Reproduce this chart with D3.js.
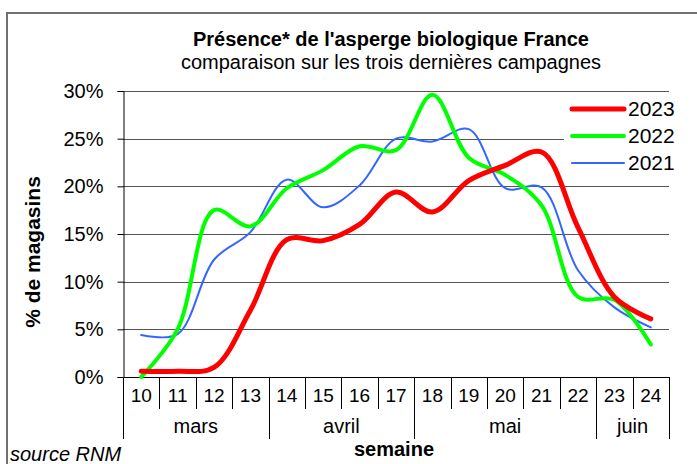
<!DOCTYPE html>
<html>
<head>
<meta charset="utf-8">
<script src="https://cdn.jsdelivr.net/npm/d3@7"></script>
<style>
  body { margin: 0; background: #fff; }
  svg { font-family: "Liberation Sans", Arial, sans-serif; }
</style>
</head>
<body>
<svg></svg>
<script>
//Data
const weeks = ["10", "11", "12", "13", "14", "15", "16", "17", "18", "19", "20", "21", "22", "23", "24"];
const v2023 = [0.6, 0.6, 1.0, 7.0, 14.4, 14.3, 16.0, 19.4, 17.3, 20.6, 22.2, 23.6, 15.7, 8.4, 6.1];
const v2022 = [0.0, 5.0, 17.5, 15.8, 19.8, 21.7, 24.2, 23.8, 29.6, 23.0, 21.2, 18.0, 8.4, 8.1, 3.4];
const v2021 = [4.4, 4.5, 12.3, 15.2, 20.7, 17.8, 20.1, 25.0, 24.7, 26.0, 19.8, 19.9, 11.2, 7.3, 5.2];
const monthNames = ["mars", "avril", "mai", "juin"];
const monthFirst = ["10", "14", "18", "23"];
const monthLast = ["13", "17", "22", "24"];
const yTicks = [0, 5, 10, 15, 20, 25, 30];

const series = [
  { name: "2023", values: v2023, color: "#ff0000", width: 5 },
  { name: "2022", values: v2022, color: "#00ff00", width: 4 },
  { name: "2021", values: v2021, color: "#3366ff", width: 2 }
];

const w = 697;
const h = 464;

const chart = d3.select("svg").attr("width", w).attr("height", h);

//Outer frame
chart.append("rect")
     .attr("x", 7).attr("y", 13)
     .attr("width", w + 10).attr("height", h + 10)
     .attr("fill", "none")
     .attr("stroke", "#707070")
     .attr("stroke-width", 2);

//Scales
const xScale = d3.scaleBand().domain(weeks).range([123, 669]);
const yScale = d3.scaleLinear().domain([0, 30]).range([377, 91]);
const xMid = (d) => xScale(d) + xScale.bandwidth() / 2;

//Gridlines
chart.append("g")
     .selectAll("line")
     .data(yTicks.filter(d => d > 0))
     .enter()
     .append("line")
     .attr("x1", 123)
     .attr("x2", 669)
     .attr("y1", d => Math.round(yScale(d)) + 0.5)
     .attr("y2", d => Math.round(yScale(d)) + 0.5)
     .attr("stroke", "#555")
     .attr("stroke-width", 1);

//Y axis
const yAxis = d3.axisLeft(yScale)
                .tickValues(yTicks)
                .tickFormat(d => d + "%")
                .tickSize(6)
                .tickPadding(14);
const yg = chart.append("g")
     .attr("transform", "translate(123.5, 0)")
     .call(yAxis);
yg.select(".domain").attr("stroke", "#000");
yg.selectAll(".tick line").attr("stroke", "#000");
yg.selectAll("text").attr("font-size", 20).attr("font-family", "Liberation Sans, Arial").attr("fill", "#000");

//X axis (weeks)
const xg = chart.append("g");
xg.append("line")
  .attr("x1", 123).attr("x2", 669)
  .attr("y1", 377.5).attr("y2", 377.5)
  .attr("stroke", "#000");
const boundaries = weeks.map(d => xScale(d)).concat([669]);
xg.selectAll(".wsep")
  .data(boundaries)
  .enter()
  .append("line")
  .attr("x1", d => Math.round(d) + 0.5)
  .attr("x2", d => Math.round(d) + 0.5)
  .attr("y1", 377)
  .attr("y2", 409)
  .attr("stroke", "#000");
xg.selectAll(".wlab")
  .data(weeks)
  .enter()
  .append("text")
  .attr("x", d => xMid(d))
  .attr("y", 402)
  .attr("text-anchor", "middle")
  .attr("font-size", 19)
  .text(d => d);

//Month row
const monthEdges = monthFirst.map(d => xScale(d)).concat([669]);
xg.selectAll(".msep")
  .data(monthEdges)
  .enter()
  .append("line")
  .attr("x1", d => Math.round(d) + 0.5)
  .attr("x2", d => Math.round(d) + 0.5)
  .attr("y1", 377)
  .attr("y2", 439)
  .attr("stroke", "#000");
xg.selectAll(".mlab")
  .data(monthNames)
  .enter()
  .append("text")
  .attr("x", (d, i) => (xScale(monthFirst[i]) + xScale(monthLast[i]) + xScale.bandwidth()) / 2)
  .attr("y", 433)
  .attr("text-anchor", "middle")
  .attr("font-size", 20)
  .text(d => d);

//Lines
const line = d3.line()
               .x((d, i) => xMid(weeks[i]))
               .y(d => yScale(d))
               .curve(d3.curveCatmullRom.alpha(0.5));

chart.append("g")
     .selectAll("path")
     .data(series.slice().reverse())
     .enter()
     .append("path")
     .attr("d", d => line(d.values))
     .attr("fill", "none")
     .attr("stroke", d => d.color)
     .attr("stroke-width", d => d.width)
     .attr("stroke-linecap", "round")
     .attr("stroke-linejoin", "round");

//Legend
const legend = chart.append("g");
legend.append("rect")
      .attr("x", 564).attr("y", 93)
      .attr("width", 110).attr("height", 86)
      .attr("fill", "#fff");
const items = legend.selectAll(".item")
                    .data(series)
                    .enter()
                    .append("g")
                    .attr("transform", (d, i) => `translate(0, ${109 + i * 27})`);
items.append("line")
     .attr("x1", 572).attr("x2", 624)
     .attr("y1", 0).attr("y2", 0)
     .attr("stroke", d => d.color)
     .attr("stroke-width", d => d.width)
     .attr("stroke-linecap", "round");
items.append("text")
     .attr("x", 628)
     .attr("y", 7)
     .attr("font-size", 21)
     .text(d => d.name);

//Titles
chart.append("text")
     .attr("x", 391).attr("y", 46)
     .attr("text-anchor", "middle")
     .attr("font-size", 20)
     .attr("font-weight", "bold")
     .text("Présence* de l'asperge biologique France");
chart.append("text")
     .attr("x", 391).attr("y", 69)
     .attr("text-anchor", "middle")
     .attr("font-size", 20)
     .text("comparaison sur les trois dernières campagnes");

chart.append("text")
     .attr("transform", "translate(40, 252) rotate(-90)")
     .attr("text-anchor", "middle")
     .attr("font-size", 21)
     .attr("font-weight", "bold")
     .text("% de magasins");

chart.append("text")
     .attr("x", 394).attr("y", 456)
     .attr("text-anchor", "middle")
     .attr("font-size", 20)
     .attr("font-weight", "bold")
     .text("semaine");

chart.append("text")
     .attr("x", 10).attr("y", 461)
     .attr("font-size", 20)
     .attr("font-style", "italic")
     .text("source RNM");
</script>
</body>
</html>
